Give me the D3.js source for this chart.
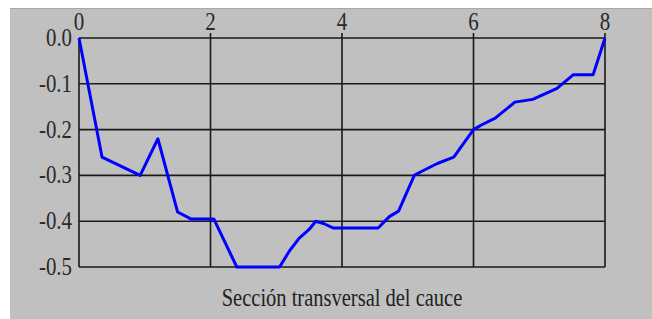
<!DOCTYPE html>
<html>
<head>
<meta charset="utf-8">
<script src="https://cdn.jsdelivr.net/npm/d3@7"></script>
<style>
  body { margin: 0; background: #fff; }
  svg { display: block; }
  text { font-family: "Liberation Serif", "Times New Roman", serif; }
</style>
</head>
<body>
<script>
// cross-section profile: distance vs depth
var distancia = [0, 0.35, 0.93, 1.2, 1.5, 1.7, 2.05, 2.4, 3.05, 3.2, 3.35, 3.5, 3.6, 3.72, 3.87, 4.55, 4.72, 4.86, 5.1, 5.2, 5.45, 5.7, 6.0, 6.12, 6.33, 6.63, 6.9, 7.27, 7.52, 7.82, 8];
var profundidad = [0, -0.26, -0.30, -0.22, -0.38, -0.395, -0.395, -0.50, -0.50, -0.465, -0.437, -0.418, -0.40, -0.405, -0.415, -0.415, -0.39, -0.378, -0.30, -0.292, -0.274, -0.26, -0.20, -0.19, -0.175, -0.14, -0.134, -0.11, -0.08, -0.08, 0];
var xTicks = [0, 2, 4, 6, 8];
var yTicks = [0, -0.1, -0.2, -0.3, -0.4, -0.5];
var titulo = "Sección transversal del cauce";

var width = 652,
    height = 319;

var svg = d3.select("body")
    .append("svg")
    .attr("width", width)
    .attr("height", height);

// gray panel
svg.append("rect")
    .attr("x", 10).attr("y", 8)
    .attr("width", width - 10).attr("height", height - 8)
    .attr("fill", "#c0c0c0");
svg.append("line")
    .attr("x1", 10).attr("x2", width)
    .attr("y1", 8.5).attr("y2", 8.5)
    .attr("stroke", "#a8a8a8");

var x = d3.scaleLinear().domain([0, 8]).range([79, 605]);
var y = d3.scaleLinear().domain([-0.5, 0]).range([267, 38]);

//horizontal grid
svg.append("g")
    .selectAll("line")
    .data(yTicks)
    .enter()
    .append("line")
    .attr("x1", x(0)).attr("x2", x(8))
    .attr("y1", function(d){ return y(d); })
    .attr("y2", function(d){ return y(d); })
    .attr("stroke", "#1a1a1a")
    .attr("stroke-width", 1.6);

//vertical grid, with small ticks above the top
svg.append("g")
    .selectAll("line")
    .data(xTicks)
    .enter()
    .append("line")
    .attr("x1", function(d){ return x(d); })
    .attr("x2", function(d){ return x(d); })
    .attr("y1", function(d){ return d == 0 ? y(0) : y(0) - 5; })
    .attr("y2", y(-0.5))
    .attr("stroke", "#1a1a1a")
    .attr("stroke-width", 1.6);

// tick labels (text in the source looks stretched vertically)
svg.append("g")
    .selectAll("text")
    .data(yTicks)
    .enter()
    .append("text")
    .attr("transform", function(d){ return "translate(72," + (y(d) + 8) + ") scale(1,1.22)"; })
    .attr("text-anchor", "end")
    .attr("font-size", 21)
    .attr("textLength", function(d){ return d == 0 ? 26 : 33; })
    .attr("lengthAdjust", "spacingAndGlyphs")
    .attr("fill", "#2a2a2a")
    .text(function(d){ return d3.format(".1f")(d).replace("−", "-"); });

svg.append("g")
    .selectAll("text")
    .data(xTicks)
    .enter()
    .append("text")
    .attr("transform", function(d){ return "translate(" + x(d) + ",30) scale(1,1.22)"; })
    .attr("text-anchor", "middle")
    .attr("font-size", 21)
    .attr("fill", "#2a2a2a")
    .text(function(d){ return d; });

// profile line
var linea = d3.line()
    .x(function(d, i){ return x(distancia[i]); })
    .y(function(d, i){ return y(profundidad[i]); });

svg.append("path")
    .datum(profundidad)
    .attr("d", linea)
    .attr("fill", "none")
    .attr("stroke", "#0000ff")
    .attr("stroke-width", 3)
    .attr("stroke-linejoin", "round");

// title
svg.append("text")
    .attr("transform", "translate(" + (x(0) + x(8)) / 2 + ",306) scale(1,1.25)")
    .attr("text-anchor", "middle")
    .attr("font-size", 20.5)
    .attr("fill", "#222")
    .text(titulo);
</script>
</body>
</html>
